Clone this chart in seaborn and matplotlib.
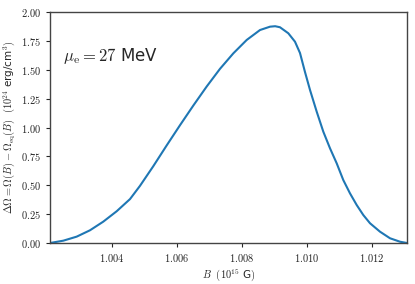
import matplotlib
matplotlib.use("Agg")
import matplotlib.pyplot as plt
from matplotlib.ticker import FuncFormatter, MultipleLocator
import pandas
import seaborn

# B in units of 10^15 G, delta Omega in 10^24 erg/cm^3
b_field = [1.002102, 1.002511, 1.002923, 1.003332, 1.003742, 1.004154, 1.004563,
           1.004871, 1.005280, 1.005692, 1.006102, 1.006511, 1.006923, 1.007332,
           1.007742, 1.008154, 1.008563, 1.008871, 1.009030, 1.009178, 1.009434,
           1.009640, 1.009794, 1.009948, 1.010102, 1.010308, 1.010511, 1.010717,
           1.010923, 1.011126, 1.011332, 1.011538, 1.011742, 1.011948, 1.012255,
           1.012563, 1.012871, 1.013086]
delta_omega = [0.0, 0.020, 0.055, 0.110, 0.185, 0.275, 0.380,
               0.495, 0.665, 0.845, 1.020, 1.190, 1.355, 1.508,
               1.642, 1.758, 1.844, 1.873, 1.877, 1.868, 1.816,
               1.743, 1.645, 1.480, 1.325, 1.137, 0.964, 0.820,
               0.690, 0.545, 0.430, 0.329, 0.242, 0.171, 0.098,
               0.041, 0.011, 0.0]

x_ticks = [1.004, 1.006, 1.008, 1.010, 1.012]


def main():
    seaborn.set_style("ticks")
    plt.rcParams["mathtext.fontset"] = "cm"
    plt.rcParams["font.family"] = ["DejaVu Sans"]

    df = pandas.DataFrame({"B": b_field, "dOmega": delta_omega})

    fig = plt.figure(figsize=(4.15, 2.84), dpi=100)
    ax = fig.add_axes([0.1205, 0.1444, 0.8602, 0.8133])
    seaborn.lineplot(ax=ax, data=df, x="B", y="dOmega", color="#1f77b4", linewidth=1.5)

    ax.set_xlim(b_field[0], b_field[-1])
    ax.set_ylim(0, 2.0)
    ax.set_xticks(x_ticks)
    ax.yaxis.set_major_locator(MultipleLocator(0.25))
    ax.xaxis.set_major_formatter(FuncFormatter(lambda v, p: r"$%.3f$" % v))
    ax.yaxis.set_major_formatter(FuncFormatter(lambda v, p: r"$%.2f$" % v))
    ax.tick_params(labelsize=7.5, length=3, width=0.8)
    for s in ax.spines.values():
        s.set_linewidth(1.0)
        s.set_color("#444444")

    ax.set_xlabel(r"$B\ \ (10^{15}$ G$)$", fontsize=7.5, labelpad=2)
    ax.set_ylabel(r"$\Delta\Omega = \Omega(B) - \Omega_{\rm eq}(B)\ \ (10^{24}$ erg/cm$^3)$",
                  fontsize=7.5, labelpad=3)
    ax.text(0.036, 0.81, r"$\mu_{\rm e} = 27$ MeV", transform=ax.transAxes,
            fontsize=12, va="center", ha="left")

    fig.savefig("out.png", dpi=100)


if __name__ == "__main__":
    main()
